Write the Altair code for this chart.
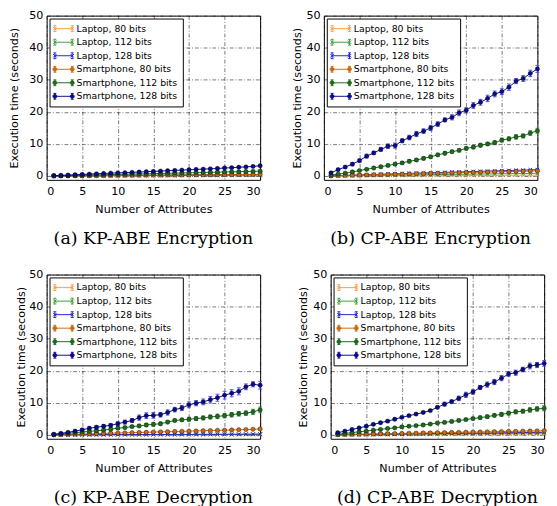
import altair as alt
import pandas as pd

X = list(range(1, 31))
SERIES = ["Laptop, 80 bits", "Laptop, 112 bits", "Laptop, 128 bits",
          "Smartphone, 80 bits", "Smartphone, 112 bits", "Smartphone, 128 bits"]
ERR_KEYS = ["e-L80", "e-L112", "e-L128", "e-S80", "e-S112", "e-S128"]
COLORS = ["#ff9a3c", "#3a9e3a", "#2020d8", "#cc6a10", "#1b6b1b", "#0a0a8c"]
ERR_COLORS = ["#ffb46e", "#6cc06c", "#5a5af0", "#f0a050", "#4a9a4a", "#5050e0"]
CAPTIONS = ["(a) KP-ABE Encryption", "(b) CP-ABE Encryption",
            "(c) KP-ABE Decryption", "(d) CP-ABE Decryption"]
X_TICKS = [0, 5, 10, 15, 20, 25, 30]
Y_TICKS = [0, 10, 20, 30, 40, 50]

# ---- (a) KP-ABE Encryption
A_L80 = [0.02,0.02,0.03,0.04,0.04,0.05,0.06,0.06,0.07,0.08,0.08,0.09,0.10,0.10,0.11,0.12,0.12,0.13,0.14,0.14,0.15,0.16,0.16,0.17,0.18,0.18,0.19,0.20,0.20,0.21]
A_L112 = [0.03,0.04,0.05,0.06,0.07,0.09,0.10,0.11,0.12,0.13,0.14,0.15,0.17,0.18,0.19,0.20,0.21,0.22,0.23,0.25,0.26,0.27,0.28,0.29,0.30,0.31,0.33,0.34,0.35,0.36]
A_L128 = [0.04,0.05,0.07,0.08,0.10,0.11,0.13,0.14,0.16,0.17,0.19,0.20,0.22,0.23,0.25,0.26,0.28,0.29,0.31,0.32,0.34,0.35,0.37,0.38,0.40,0.41,0.43,0.44,0.46,0.47]
A_S80 = [0.03,0.05,0.06,0.08,0.10,0.11,0.13,0.15,0.16,0.18,0.19,0.21,0.23,0.24,0.26,0.27,0.29,0.31,0.32,0.34,0.36,0.37,0.39,0.41,0.42,0.44,0.46,0.47,0.49,0.51]
A_S112 = [0.06,0.11,0.15,0.21,0.25,0.30,0.36,0.40,0.46,0.50,0.56,0.60,0.66,0.70,0.76,0.80,0.86,0.91,0.95,1.01,1.06,1.10,1.16,1.20,1.26,1.31,1.35,1.41,1.46,1.52]
A_S128 = [0.10,0.20,0.30,0.40,0.50,0.60,0.70,0.80,0.90,1.00,1.05,1.15,1.25,1.35,1.45,1.55,1.65,1.75,1.85,1.95,2.05,2.15,2.25,2.35,2.50,2.60,2.75,2.85,3.00,3.20]
A_S112_ERR = [0.03,0.03,0.04,0.04,0.05,0.05,0.06,0.06,0.07,0.07,0.08,0.08,0.09,0.09,0.10,0.10,0.11,0.11,0.12,0.12,0.13,0.13,0.14,0.14,0.15,0.15,0.16,0.16,0.17,0.18]
A_S128_ERR = [0.05,0.05,0.06,0.06,0.07,0.07,0.08,0.08,0.09,0.09,0.10,0.10,0.11,0.11,0.12,0.12,0.13,0.13,0.14,0.14,0.15,0.15,0.16,0.16,0.17,0.17,0.18,0.18,0.19,0.20]

# ---- (b) CP-ABE Encryption
B_L80 = [0.02,0.03,0.04,0.05,0.05,0.06,0.07,0.08,0.09,0.10,0.10,0.11,0.12,0.13,0.14,0.15,0.15,0.16,0.17,0.18,0.19,0.20,0.20,0.21,0.22,0.23,0.24,0.25,0.25,0.26]
B_L112 = [0.05,0.08,0.11,0.13,0.16,0.19,0.21,0.24,0.27,0.30,0.32,0.35,0.38,0.40,0.43,0.46,0.49,0.51,0.54,0.57,0.59,0.62,0.65,0.68,0.70,0.73,0.76,0.78,0.81,0.84]
B_L128 = [0.10,0.16,0.23,0.29,0.36,0.42,0.49,0.55,0.62,0.68,0.75,0.81,0.88,0.94,1.01,1.07,1.14,1.20,1.27,1.33,1.40,1.46,1.53,1.59,1.66,1.72,1.79,1.85,1.92,1.98]
B_S80 = [0.08,0.13,0.18,0.24,0.29,0.34,0.40,0.45,0.50,0.55,0.61,0.66,0.71,0.77,0.82,0.87,0.92,0.98,1.03,1.08,1.14,1.19,1.24,1.30,1.35,1.40,1.45,1.51,1.56,1.62]
B_S112 = [0.3,0.6,0.9,1.3,1.7,2.1,2.5,2.9,3.3,3.7,4.1,4.6,5.0,5.5,6.0,6.6,7.1,7.6,8.0,8.6,9.0,9.6,10.0,10.4,11.2,11.6,12.2,12.5,13.4,14.1]
B_S128 = [1.0,2.0,2.8,3.7,4.8,6.2,7.2,8.3,9.3,9.5,11.0,12.0,13.1,14.0,15.0,16.2,17.5,18.3,19.7,20.5,22.0,23.0,24.2,25.6,26.3,27.7,29.6,30.4,32.0,33.4]
B_S112_ERR = [0.2,0.2,0.2,0.3,0.3,0.3,0.3,0.4,0.4,0.4,0.4,0.5,0.4,0.5,0.5,0.5,0.5,0.4,0.5,0.5,0.5,0.6,0.5,0.6,0.6,0.6,0.7,0.6,0.7,0.8]
B_S128_ERR = [0.3,0.4,0.4,0.5,0.5,0.6,0.5,0.6,0.7,0.8,0.6,0.7,0.8,0.7,0.8,0.7,0.6,0.8,0.9,0.8,0.9,0.9,1.0,0.9,0.9,1.0,0.8,0.9,1.0,1.1]

# ---- (c) KP-ABE Decryption
C_L80 = [0.02,0.02,0.02,0.03,0.03,0.03,0.04,0.04,0.04,0.05,0.05,0.05,0.06,0.06,0.06,0.07,0.07,0.07,0.08,0.08,0.08,0.09,0.09,0.09,0.10,0.10,0.10,0.11,0.11,0.11]
C_L112 = [0.03,0.03,0.04,0.04,0.05,0.05,0.06,0.06,0.07,0.07,0.08,0.08,0.09,0.09,0.10,0.10,0.11,0.11,0.12,0.12,0.13,0.13,0.14,0.14,0.15,0.15,0.16,0.16,0.17,0.17]
C_L128 = [0.04,0.05,0.05,0.06,0.07,0.08,0.08,0.09,0.10,0.11,0.11,0.12,0.13,0.14,0.14,0.15,0.16,0.17,0.17,0.18,0.19,0.20,0.20,0.21,0.22,0.23,0.23,0.24,0.25,0.26]
C_S80 = [0.05,0.11,0.17,0.23,0.29,0.35,0.41,0.47,0.53,0.59,0.65,0.71,0.77,0.83,0.89,0.95,1.01,1.07,1.13,1.19,1.25,1.31,1.37,1.43,1.49,1.55,1.61,1.67,1.76,1.88]
C_S112 = [0.1,0.3,0.5,0.7,0.9,1.1,1.3,1.5,1.8,2.1,2.3,2.6,2.8,3.1,3.3,3.5,4.0,4.5,4.7,4.9,5.1,5.3,5.6,5.8,6.0,6.3,6.6,6.8,7.2,7.8]
C_S128 = [0.2,0.5,0.8,1.2,1.6,2.1,2.4,2.7,3.0,3.5,4.0,4.5,5.4,6.0,6.1,6.3,7.0,7.9,8.4,9.4,9.9,10.3,11.0,11.6,12.4,13.0,13.6,15.0,15.8,15.5]
C_S112_ERR = [0.1,0.1,0.2,0.2,0.2,0.3,0.3,0.3,0.4,0.4,0.4,0.4,0.5,0.5,0.6,0.5,0.5,0.4,0.5,0.6,0.6,0.6,0.6,0.7,0.7,0.7,0.7,0.7,0.8,0.9]
C_S128_ERR = [0.1,0.2,0.2,0.3,0.4,0.4,0.5,0.5,0.5,0.6,0.6,0.6,0.8,0.9,0.9,0.7,0.8,0.7,0.8,0.9,0.8,0.9,1.0,1.1,1.2,1.1,1.1,0.9,0.8,1.2]

# ---- (d) CP-ABE Decryption
D_L80 = [0.03,0.04,0.05,0.06,0.06,0.07,0.08,0.09,0.10,0.11,0.12,0.12,0.13,0.14,0.15,0.16,0.17,0.18,0.18,0.19,0.20,0.21,0.22,0.23,0.24,0.24,0.25,0.26,0.27,0.28]
D_L112 = [0.06,0.08,0.10,0.11,0.13,0.15,0.17,0.19,0.20,0.22,0.24,0.26,0.28,0.29,0.31,0.33,0.35,0.37,0.38,0.40,0.42,0.44,0.46,0.47,0.49,0.51,0.53,0.55,0.56,0.58]
D_L128 = [0.10,0.12,0.15,0.17,0.20,0.22,0.25,0.27,0.30,0.32,0.35,0.37,0.40,0.42,0.45,0.47,0.50,0.52,0.55,0.57,0.60,0.62,0.65,0.67,0.70,0.72,0.75,0.77,0.80,0.82]
D_S80 = [0.10,0.14,0.18,0.22,0.26,0.30,0.35,0.39,0.43,0.47,0.51,0.55,0.60,0.64,0.68,0.72,0.76,0.80,0.85,0.89,0.93,0.97,1.01,1.05,1.10,1.14,1.18,1.22,1.26,1.30]
D_S112 = [0.2,0.5,0.7,1.0,1.2,1.5,1.7,2.0,2.2,2.5,2.7,2.9,3.1,3.4,3.7,3.9,4.2,4.5,4.8,5.1,5.4,5.7,6.1,6.4,6.8,7.2,7.4,7.8,8.1,8.3]
D_S128 = [0.7,1.2,1.7,2.2,2.7,3.3,3.8,4.3,4.9,5.5,6.0,6.5,7.0,7.6,8.6,9.6,10.4,11.4,12.5,13.4,14.8,15.7,16.5,17.7,19.0,19.4,20.4,21.5,21.8,22.3]
D_S112_ERR = [0.1,0.1,0.1,0.2,0.2,0.2,0.2,0.2,0.2,0.3,0.3,0.3,0.3,0.3,0.3,0.4,0.4,0.4,0.4,0.4,0.5,0.5,0.5,0.6,0.6,0.6,0.6,0.7,0.7,0.8]
D_S128_ERR = [0.2,0.2,0.2,0.2,0.3,0.3,0.3,0.3,0.3,0.3,0.3,0.3,0.3,0.3,0.4,0.6,0.5,0.7,0.8,0.7,0.6,0.8,0.8,0.8,0.7,0.8,0.7,0.9,0.8,0.9]

SMALL_ERR = [0.02,0.02,0.03,0.03,0.03,0.04,0.04,0.04,0.05,0.05,0.05,0.06,0.06,0.06,0.07,0.07,0.07,0.08,0.08,0.08,0.09,0.09,0.09,0.10,0.10,0.10,0.11,0.11,0.11,0.12]

PANELS = [
    ([A_L80, A_L112, A_L128, A_S80, A_S112, A_S128], {3: SMALL_ERR, 4: A_S112_ERR, 5: A_S128_ERR}),
    ([B_L80, B_L112, B_L128, B_S80, B_S112, B_S128], {2: SMALL_ERR, 3: SMALL_ERR, 4: B_S112_ERR, 5: B_S128_ERR}),
    ([C_L80, C_L112, C_L128, C_S80, C_S112, C_S128], {3: SMALL_ERR, 4: C_S112_ERR, 5: C_S128_ERR}),
    ([D_L80, D_L112, D_L128, D_S80, D_S112, D_S128], {3: SMALL_ERR, 4: D_S112_ERR, 5: D_S128_ERR}),
]
Y_TITLE_PAD = [9, 4, 2, 4]

# legend symbols: line with error bars and markers at both ends
_LINES = ("M-1,0L2.6,0M-1,-0.6L-1,0.6M-1.3,-0.6L-0.7,-0.6M-1.3,0.6L-0.7,0.6"
          "M2.6,-0.6L2.6,0.6M2.3,-0.6L2.9,-0.6M2.3,0.6L2.9,0.6")
LAP_PATH = _LINES + "M-1.35,-0.35L-0.65,0.35M-1.35,0.35L-0.65,-0.35M2.25,-0.35L2.95,0.35M2.25,0.35L2.95,-0.35"
SMP_PATH = _LINES + "M-1.4,0A0.4,0.4 0 1 0 -0.6,0A0.4,0.4 0 1 0 -1.4,0ZM2.2,0A0.4,0.4 0 1 0 3.0,0A0.4,0.4 0 1 0 2.2,0Z"
LEG_SHAPES = [LAP_PATH, LAP_PATH, LAP_PATH, SMP_PATH, SMP_PATH, SMP_PATH]

W, H = 221, 170


def make_df(vals, errs):
    recs = []
    for k, s in enumerate(SERIES):
        v = vals[k]
        e = errs.get(k)
        for i, xv in enumerate(X):
            rec = {"x": xv, "y": v[i], "series": s, "eseries": ERR_KEYS[k]}
            if e is not None:
                rec["lo"] = v[i] - e[i]
                rec["hi"] = v[i] + e[i]
            recs.append(rec)
    return pd.DataFrame(recs)


def panel(idx):
    vals, errs = PANELS[idx]
    df = make_df(vals, errs)
    xs = alt.Scale(domain=[0, 30], nice=False, zero=False, padding=0)
    ys = alt.Scale(domain=[-1.2, 50], nice=False, zero=False, padding=0)
    xa = alt.Axis(values=X_TICKS, title="Number of Attributes", labelPadding=6, titlePadding=7)
    ya = alt.Axis(values=Y_TICKS, title="Execution time (seconds)", titlePadding=Y_TITLE_PAD[idx])
    ex = alt.X("x:Q", scale=xs, axis=xa)
    ey = alt.Y("y:Q", scale=ys, axis=ya)
    main = alt.Scale(domain=SERIES, range=COLORS)
    errs_scale = alt.Scale(domain=ERR_KEYS, range=ERR_COLORS)
    col = alt.Color("series:N", scale=main, legend=None)
    base = alt.Chart(df)
    leg = alt.Legend(title=None, symbolOpacity=1)
    legend_layer = base.transform_filter("false").mark_point(
        filled=False, opacity=1, strokeWidth=1
    ).encode(
        x=ex, y=ey,
        color=alt.Color("series:N", scale=main, legend=leg),
        fill=alt.Fill("series:N", scale=main, legend=leg),
        shape=alt.Shape("series:N", scale=alt.Scale(domain=SERIES, range=LEG_SHAPES), legend=leg),
    )
    eb = base.transform_filter("isValid(datum.lo)")
    estroke = alt.Stroke("eseries:N", scale=errs_scale, legend=None)
    bars = eb.mark_rule(strokeWidth=1).encode(
        x=ex, y=alt.Y("lo:Q", scale=ys, axis=ya), y2="hi:Q", stroke=estroke)
    cap_lo = eb.mark_point(shape="M-1,0L1,0", size=16, filled=False, opacity=1, strokeWidth=1).encode(
        x=ex, y=alt.Y("lo:Q", scale=ys, axis=ya), stroke=estroke)
    cap_hi = eb.mark_point(shape="M-1,0L1,0", size=16, filled=False, opacity=1, strokeWidth=1).encode(
        x=ex, y=alt.Y("hi:Q", scale=ys, axis=ya), stroke=estroke)
    line = base.mark_line(strokeWidth=1).encode(x=ex, y=ey, color=col)
    lap = base.transform_filter("indexof(datum.series, 'Laptop') == 0").mark_point(
        shape="M-1,-1L1,1M-1,1L1,-1", size=14, filled=False, opacity=1, strokeWidth=1
    ).encode(x=ex, y=ey, color=col)
    smp = base.transform_filter("indexof(datum.series, 'Smartphone') == 0").mark_point(
        shape="circle", size=20, filled=True, opacity=1, stroke="#000000", strokeWidth=0.4
    ).encode(x=ex, y=ey, color=col)
    return alt.layer(legend_layer, bars, cap_lo, cap_hi, line, lap, smp).properties(
        width=W, height=H,
        title=alt.TitleParams(CAPTIONS[idx], orient="bottom", anchor="middle", frame="group",
                              font="DejaVu Serif", fontSize=18, fontWeight="normal",
                              color="black", offset=16),
    )


def indep(ch):
    return ch.resolve_scale(color="independent", fill="independent", shape="independent",
                            stroke="independent").resolve_legend(
        color="independent", fill="independent", shape="independent", stroke="independent")


top = indep(alt.hconcat(panel(0), panel(1), spacing=26))
bottom = indep(alt.hconcat(panel(2), panel(3), spacing=33))

chart = indep(alt.vconcat(top, bottom, spacing=20)).properties(
    padding={"left": 0, "top": -8, "right": 0, "bottom": 0}
).configure_scale(continuousPadding=0).configure_view(stroke="black", strokeWidth=1).configure_axis(
    labelFont="DejaVu Sans", labelFontSize=11.5, labelColor="black",
    titleFont="DejaVu Sans", titleFontSize=11.5, titleFontWeight="normal", titleColor="black",
    grid=True, gridColor="black", gridDash=[4, 2, 1, 2], gridWidth=0.6, gridOpacity=0.9,
    ticks=False, domain=False, labelPadding=4, titlePadding=4,
).configure_legend(
    orient="top-left", offset=3, padding=5, strokeColor="black", fillColor="white",
    cornerRadius=0, labelFont="DejaVu Sans", labelFontSize=9.6, labelColor="black",
    symbolSize=100, symbolStrokeWidth=1, rowPadding=3, labelOffset=12, symbolOpacity=1,
)

chart.save("out.html", embed_options={"renderer": "svg", "actions": False})
